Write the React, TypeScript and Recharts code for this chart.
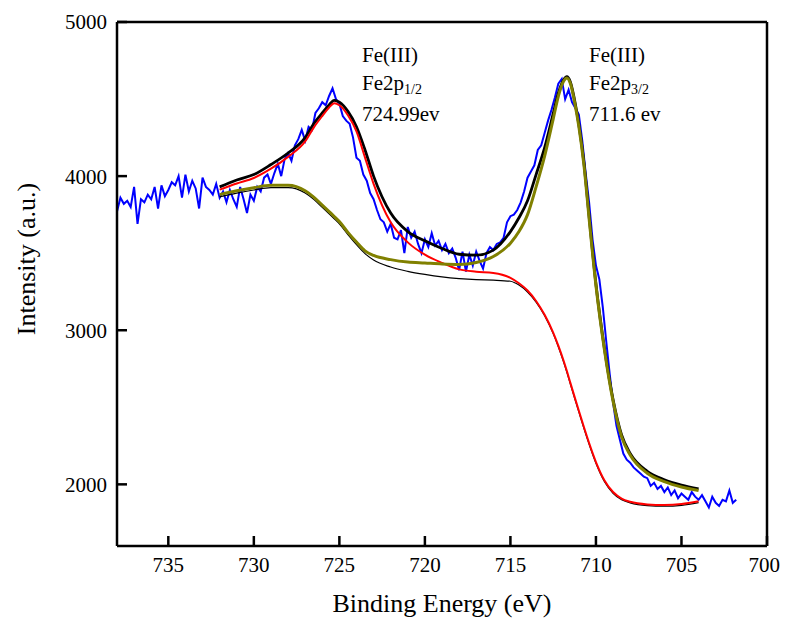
import React from "react";
import {
  LineChart,
  Line,
  XAxis,
  YAxis,
  ReferenceLine,
} from "recharts";

// Spectre brut : une mesure tous les 0.2 eV, de 738 eV vers 701.8 eV.
const RAW_START = 738;
const RAW_STEP = 0.2;
const RAW_COUNTS = [
  3770, 3860, 3820, 3840, 3800, 3930, 3690, 3850, 3830, 3880,
  3850, 3930, 3790, 3940, 3870, 3910, 3960, 3940, 4000, 3860,
  4010, 3900, 3970, 3920, 3790, 3990, 3930, 3910, 3880, 3950,
  3860, 3900, 3830, 3910, 3850, 3800, 3930, 3850, 3760, 3880,
  3840, 3930, 3900, 3990, 4010, 3950, 4020, 4080, 4000, 4110,
  4150, 4100, 4200, 4240, 4300, 4230, 4320, 4300, 4410, 4440,
  4480, 4460, 4520, 4570, 4500, 4470, 4390, 4360, 4340, 4250,
  4120, 4100, 4010, 3970, 3890, 3850, 3780, 3720, 3700, 3640,
  3690, 3600, 3590, 3650, 3500, 3670, 3600, 3640, 3560, 3500,
  3590, 3540, 3630, 3550, 3580, 3520, 3560, 3500, 3530, 3470,
  3390, 3510, 3380, 3490, 3420, 3510, 3450, 3400, 3500, 3540,
  3520, 3560, 3570, 3600, 3700, 3740, 3750, 3780, 3830, 3900,
  3990, 4030, 4070, 4170, 4200, 4280, 4360, 4430, 4510, 4600,
  4630, 4500, 4560, 4480, 4440, 4400, 4230, 4020, 3830, 3590,
  3420, 3330, 3150, 2930, 2720, 2530, 2380, 2290, 2200, 2160,
  2140, 2110, 2090, 2070, 2050, 2040, 1990, 2010, 1970, 1990,
  1950, 1980, 1930, 1960, 1910, 1940, 1920, 1900, 1950, 1920,
  1900, 1930, 1890, 1850, 1920, 1880, 1860, 1900, 1890, 1960,
  1880, 1900,
];

// Courbes d'ajustement (énergie de liaison en eV)
const FIT_E = [
  732, 731, 730, 729, 728, 727, 726.5, 726, 725.6, 725.3, 725, 724.5, 724,
  723.5, 723, 722, 721, 720, 719, 718, 717, 716, 715, 714.5, 714, 713.5, 713,
  712.5, 712.2, 711.9, 711.7, 711.5, 711.2, 711, 710.7, 710.4, 710, 709.5, 709,
  708.5, 708, 707, 706, 705, 704,
];
const ENVELOPE = [
  3930, 3975, 4010, 4075, 4150, 4250, 4340, 4410, 4462, 4492, 4480, 4420, 4320,
  4170, 4000, 3760, 3640, 3580, 3530, 3493, 3487, 3520, 3640, 3730, 3840, 4010,
  4185, 4405, 4538, 4622, 4645, 4612, 4465, 4335, 4085, 3740, 3300, 2880, 2550,
  2320, 2200, 2085, 2030, 1995, 1970,
];
const FE_2P12 = [
  3912, 3952, 3988, 4048, 4125, 4225, 4315, 4390, 4445, 4473, 4460, 4395, 4290,
  4120, 3950, 3700, 3570, 3490, 3437, 3395, 3380, 3372, 3340, 3305, 3258, 3190,
  3100, 2985, 2900, 2805, 2735, 2660, 2550, 2478, 2370, 2268, 2145, 2025, 1950,
  1908, 1887, 1870, 1866, 1872, 1890,
];
const FE_2P32 = [
  3880, 3905, 3925, 3940, 3940, 3905, 3864, 3812, 3770, 3738, 3705, 3635, 3572,
  3515, 3485, 3458, 3442, 3436, 3430, 3427, 3440, 3478, 3565, 3640, 3750, 3930,
  4130, 4370, 4518, 4614, 4637, 4602, 4452, 4322, 4070, 3725, 3290, 2870, 2540,
  2308, 2190, 2072, 2018, 1983, 1960,
];
const BACKGROUND = [
  3865, 3890, 3910, 3925, 3925, 3890, 3849, 3797, 3755, 3723, 3690, 3620, 3555,
  3497, 3455, 3410, 3382, 3362, 3346, 3335, 3328, 3325, 3318, 3293, 3248, 3183,
  3095, 2978, 2893, 2797, 2727, 2652, 2542, 2470, 2362, 2260, 2137, 2017, 1942,
  1900, 1880, 1862, 1858, 1864, 1882,
];

const X_TICKS = [735, 730, 725, 720, 715, 710, 705, 700];
const Y_TICKS = [2000, 3000, 4000, 5000];

const FONT = "'Liberation Serif', 'Times New Roman', serif";

const raw = RAW_COUNTS.map((y, i) => ({
  x: +(RAW_START - i * RAW_STEP).toFixed(1),
  y,
}));
const pts = (ys: number[]) => FIT_E.map((x, i) => ({ x, y: ys[i] }));

const tickStyle = { fill: "#000", fontSize: 21, fontFamily: FONT };
const axisStroke = { stroke: "#000", strokeWidth: 2.5 };

const note: React.CSSProperties = {
  position: "absolute",
  top: 33,
  fontFamily: FONT,
  fontSize: 21,
  lineHeight: "28px",
  color: "#000",
  whiteSpace: "nowrap",
};
const sub: React.CSSProperties = {
  fontSize: 14,
  verticalAlign: "baseline",
  position: "relative",
  top: 4,
};

export default function App() {
  return (
    <div style={{ position: "relative", width: 772, height: 610 }}>
      <LineChart
        width={772}
        height={610}
        margin={{ top: 14, right: 13, bottom: 0, left: 0 }}
      >
        <XAxis
          type="number"
          dataKey="x"
          domain={[700, 738]}
          reversed
          allowDataOverflow
          ticks={X_TICKS}
          height={72}
          tick={tickStyle}
          tickSize={-10}
          tickMargin={21}
          axisLine={axisStroke}
          tickLine={axisStroke}
        />
        <YAxis
          type="number"
          dataKey="y"
          domain={[1600, 5000]}
          allowDataOverflow
          ticks={Y_TICKS}
          width={109}
          tick={tickStyle}
          tickSize={-10}
          tickMargin={20}
          axisLine={axisStroke}
          tickLine={axisStroke}
        />
        <ReferenceLine y={5000} stroke="#000" strokeWidth={2.5} />
        <ReferenceLine x={700} stroke="#000" strokeWidth={2.5} />

        <Line
          data={raw}
          dataKey="y"
          type="linear"
          stroke="#0000ff"
          strokeWidth={2}
          dot={false}
          activeDot={false}
          isAnimationActive={false}
        />
        <Line
          data={pts(ENVELOPE)}
          dataKey="y"
          type="monotone"
          stroke="#000"
          strokeWidth={2.8}
          dot={false}
          activeDot={false}
          isAnimationActive={false}
        />
        <Line
          data={pts(BACKGROUND)}
          dataKey="y"
          type="monotone"
          stroke="#000"
          strokeWidth={1.2}
          dot={false}
          activeDot={false}
          isAnimationActive={false}
        />
        <Line
          data={pts(FE_2P12)}
          dataKey="y"
          type="monotone"
          stroke="#ff0000"
          strokeWidth={2}
          dot={false}
          activeDot={false}
          isAnimationActive={false}
        />
        <Line
          data={pts(FE_2P32)}
          dataKey="y"
          type="monotone"
          stroke="#808000"
          strokeWidth={3}
          dot={false}
          activeDot={false}
          isAnimationActive={false}
        />
      </LineChart>

      <div style={{ ...note, left: 354 }}>
        Fe(III)
        <br />
        Fe2p<span style={sub}>1/2</span>
        <br />
        724.99ev
      </div>
      <div style={{ ...note, left: 581 }}>
        Fe(III)
        <br />
        Fe2p<span style={sub}>3/2</span>
        <br />
        711.6 ev
      </div>

      <div
        style={{
          position: "absolute",
          left: 284,
          width: 300,
          top: 583,
          textAlign: "center",
          fontFamily: FONT,
          fontSize: 26,
          lineHeight: "26px",
          whiteSpace: "nowrap",
        }}
      >
        Binding Energy (eV)
      </div>
      <div
        style={{
          position: "absolute",
          left: 19 - 150,
          width: 300,
          top: 251 - 13,
          textAlign: "center",
          fontFamily: FONT,
          fontSize: 26,
          lineHeight: "26px",
          whiteSpace: "nowrap",
          transform: "rotate(-90deg)",
        }}
      >
        Intensity (a.u.)
      </div>
    </div>
  );
}
